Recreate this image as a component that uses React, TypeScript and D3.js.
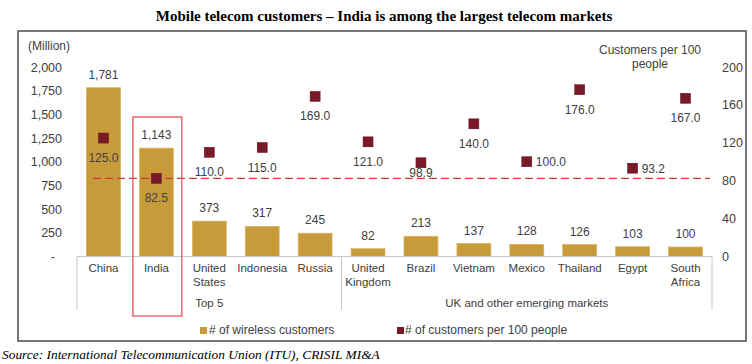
import React from "react";
import * as d3 from "d3";

const categories = ["China", "India", "United States", "Indonesia", "Russia", "United Kingdom", "Brazil", "Vietnam", "Mexico", "Thailand", "Egypt", "South Africa"];
const categoryLines = [["China"], ["India"], ["United", "States"], ["Indonesia"], ["Russia"], ["United", "Kingdom"], ["Brazil"], ["Vietnam"], ["Mexico"], ["Thailand"], ["Egypt"], ["South", "Africa"]];
const wirelessCustomers = [1781, 1143, 373, 317, 245, 82, 213, 137, 128, 126, 103, 100];
const per100 = [125.0, 82.5, 110.0, 115.0, 169.0, 121.0, 98.9, 140.0, 100.0, 176.0, 93.2, 167.0];
const per100LabelPos = ["below", "below", "below", "below", "below", "below", "near", "below", "right", "below", "right", "below"];
const leftTicks = [0, 250, 500, 750, 1000, 1250, 1500, 1750, 2000];
const rightTicks = [0, 40, 80, 120, 160, 200];
const groups = [
  { name: "Top 5", from: 0, to: 4 },
  { name: "UK and other emerging markets", from: 5, to: 11 },
];
const indiaIndex = 1;

const BAR = "#c89b3a";
const BAR_STROKE = "#d9b25e";
const PT = "#7a1a28";
const TXT = "#404040";
const FONT = "'Liberation Sans', Arial, sans-serif";

export default function App() {
  const x = d3.scaleBand<string>().domain(categories).range([77, 712]).paddingInner(0.36).paddingOuter(0.18);
  const yL = d3.scaleLinear().domain([0, 2000]).range([256.5, 67]);
  const yR = d3.scaleLinear().domain([0, 200]).range([256.5, 67]);
  const fmt = d3.format(",");
  const bw = x.bandwidth();
  const step = x.step();
  const cx = (i: number) => (x(categories[i]) as number) + bw / 2;
  const edge = (i: number) => (x(categories[i]) as number) - (step - bw) / 2;
  const sepLines = [edge(0), edge(groups[1].from), edge(11) + step];
  const ptSize = 10;

  return (
    <svg width={752} height={364} style={{ display: "block", position: "absolute", left: 0, top: 0, background: "#fff" }} fontFamily={FONT}>
      <style>{"body{margin:0}"}</style>
      <text x={384} y={21} textAnchor="middle" fontFamily="'Liberation Serif', 'Times New Roman', serif" fontWeight="bold" fontSize={15} fill="#000">
        Mobile telecom customers – India is among the largest telecom markets
      </text>
      <rect x={18} y={31} width={728} height={310} fill="none" stroke="#555" strokeWidth={1.6} />

      <text x={28} y={50} fontSize={12} fill={TXT}>(Million)</text>
      <text x={650} y={54} textAnchor="middle" fontSize={12} fill={TXT}>Customers per 100</text>
      <text x={650} y={68} textAnchor="middle" fontSize={12} fill={TXT}>people</text>

      {leftTicks.map((t) => (
        <text key={"l" + t} x={t === 0 ? 55 : 62} y={yL(t) + 4.5} textAnchor="end" fontSize={12.5} fill={TXT}>
          {t === 0 ? "-" : fmt(t)}
        </text>
      ))}
      {rightTicks.map((t) => (
        <text key={"r" + t} x={722} y={yR(t) + 4.5} textAnchor="start" fontSize={12.5} fill={TXT}>
          {t}
        </text>
      ))}

      {wirelessCustomers.map((v, i) => (
        <g key={"b" + i}>
          <rect x={x(categories[i])} y={yL(v)} width={bw} height={yL(0) - yL(v)} fill={BAR} stroke={BAR_STROKE} strokeWidth={0.8} />
          <text x={cx(i)} y={yL(v) - 9} textAnchor="middle" fontSize={12} fill={TXT}>{fmt(v)}</text>
        </g>
      ))}

      <line x1={sepLines[0]} x2={sepLines[2]} y1={yL(0)} y2={yL(0)} stroke="#c8c8c8" strokeWidth={1} />
      {sepLines.map((sx, i) => (
        <line key={"s" + i} x1={sx} x2={sx} y1={yL(0)} y2={310} stroke="#c8c8c8" strokeWidth={1} />
      ))}

      <line x1={93} x2={710} y1={yR(per100[indiaIndex])} y2={yR(per100[indiaIndex])} stroke="#d03c3c" strokeWidth={1.3} strokeDasharray="8,4" />

      {per100.map((v, i) => {
        const py = yR(v);
        const pos = per100LabelPos[i];
        const lx = pos === "right" ? cx(i) + ptSize / 2 + 4 : cx(i);
        const ly = pos === "right" ? py + 4.5 : pos === "near" ? py + 14 : py + 24;
        return (
          <g key={"p" + i}>
            <rect x={cx(i) - ptSize / 2} y={py - ptSize / 2} width={ptSize} height={ptSize} fill={PT} stroke="#5e0f1b" strokeWidth={0.5} />
            <text x={lx} y={ly} textAnchor={pos === "right" ? "start" : "middle"} fontSize={12} fill={TXT}>{v.toFixed(1)}</text>
          </g>
        );
      })}

      {categoryLines.map((lines, i) => (
        <text key={"c" + i} x={cx(i)} y={272} textAnchor="middle" fontSize={11.5} fill={TXT}>
          {lines.map((ln, k) => (
            <tspan key={k} x={cx(i)} dy={k === 0 ? 0 : 14}>{ln}</tspan>
          ))}
        </text>
      ))}
      {groups.map((g) => (
        <text key={g.name} x={(edge(g.from) + edge(g.to) + step) / 2} y={307} textAnchor="middle" fontSize={11.5} fill={TXT}>{g.name}</text>
      ))}

      <rect x={edge(indiaIndex) + 3} y={117} width={step - 4} height={199} fill="none" stroke="#d94a4a" strokeWidth={1.2} />

      <rect x={200} y={327} width={7} height={7} fill={BAR} />
      <text x={209} y={334} fontSize={12} fill={TXT}># of wireless customers</text>
      <rect x={397} y={327} width={7} height={7} fill={PT} />
      <text x={405} y={334} fontSize={12} fill={TXT}># of customers per 100 people</text>

      <text x={2} y={359} fontFamily="'Liberation Serif', 'Times New Roman', serif" fontStyle="italic" fontSize={13.4} fill="#000">
        Source: International Telecommunication Union (ITU), CRISIL MI&amp;A
      </text>
    </svg>
  );
}
